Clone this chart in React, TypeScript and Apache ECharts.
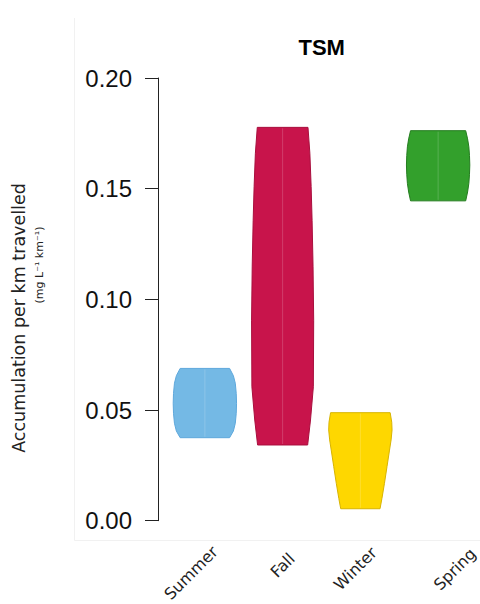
import React, { useEffect, useRef } from "react";
import * as echarts from "echarts";

// ---- data ----
const seasons = ["Summer", "Fall", "Winter", "Spring"];
const yTicks = [0, 0.05, 0.1, 0.15, 0.2];

// violin outlines: value levels (top → bottom) and relative half-widths
const summerY = [0.0688, 0.0655, 0.0621, 0.0575, 0.053, 0.0485, 0.044, 0.0405, 0.0375];
const summerW = [0.78, 0.9, 0.96, 0.99, 1.0, 0.99, 0.96, 0.9, 0.78];
const fallY = [0.1777, 0.166, 0.151, 0.1357, 0.115, 0.0906, 0.0605, 0.0455, 0.0342];
const fallW = [0.8, 0.86, 0.9, 0.93, 0.96, 0.98, 0.97, 0.88, 0.79];
const winterY = [0.0488, 0.0445, 0.041, 0.0365, 0.0319, 0.0244, 0.0169, 0.01, 0.0054];
const winterW = [0.94, 0.99, 1.0, 0.97, 0.92, 0.84, 0.76, 0.68, 0.62];
const springY = [0.1762, 0.1725, 0.1689, 0.165, 0.1607, 0.1565, 0.1524, 0.1485, 0.1445];
const springW = [0.87, 0.93, 0.97, 0.99, 1.0, 0.99, 0.97, 0.93, 0.87];

const profileY = [summerY, fallY, winterY, springY];
const profileW = [summerW, fallW, winterW, springW];

// ---- styles ----
const fills = ["#74b9e5", "#c8144b", "#fed700", "#33a02c"];
const strokes = ["#5ea8dc", "#a90f3e", "#d8b400", "#247d1f"];
const labelPos = [
  [215, 549],
  [292, 556],
  [374, 550],
  [473, 551],
];

export default function App() {
  const ref = useRef<HTMLDivElement>(null);
  useEffect(() => {
    const chart = echarts.init(ref.current!, null, { renderer: "svg" });
    const option: any = {
      animation: false,
      backgroundColor: "#ffffff",
      grid: { left: 166, right: 3, top: 78, bottom: 83.3, containLabel: false },
      xAxis: {
        type: "category",
        data: seasons,
        boundaryGap: true,
        axisLine: { show: false },
        axisTick: { show: false },
        axisLabel: { show: false },
        splitLine: { show: false },
      },
      yAxis: {
        type: "value",
        min: yTicks[0],
        max: yTicks[yTicks.length - 1],
        interval: 0.05,
        offset: 8,
        axisLine: { show: true, lineStyle: { color: "#222", width: 1 } },
        axisTick: { show: true, length: 13, inside: false, lineStyle: { color: "#222", width: 1 } },
        axisLabel: {
          margin: 26,
          fontSize: 24,
          fontFamily: "Liberation Sans, Arial, sans-serif",
          color: "#111",
          formatter: (v: number) => v.toFixed(2),
        },
        splitLine: { show: false },
      },
      series: [
        {
          type: "custom",
          data: seasons.map((_, i) => [i, profileY[i][0]]),
          encode: { x: 0, y: 1 },
          renderItem: (params: any, api: any) => {
            const i = params.dataIndex;
            const ys = profileY[i];
            const ws = profileW[i];
            const bw = api.size([1, 0])[0];
            const half = bw * 0.4075;
            const right = ys.map((y, k) => {
              const c = api.coord([i, y]);
              return [c[0] + ws[k] * half, c[1]];
            });
            const left = ys
              .map((y, k) => {
                const c = api.coord([i, y]);
                return [c[0] - ws[k] * half, c[1]];
              })
              .reverse();
            const top = api.coord([i, ys[0]]);
            const bot = api.coord([i, ys[ys.length - 1]]);
            return {
              type: "group",
              children: [
                {
                  type: "polygon",
                  shape: { points: right.concat(left) },
                  style: { fill: fills[i], stroke: strokes[i], lineWidth: 1 },
                },
                {
                  type: "line",
                  shape: { x1: top[0], y1: top[1] + 1, x2: bot[0], y2: bot[1] - 1 },
                  style: { stroke: "rgba(255,255,255,0.18)", lineWidth: 1 },
                },
              ],
            };
          },
        },
      ],
      graphic: [
        {
          type: "line",
          shape: { x1: 74.5, y1: 18, x2: 74.5, y2: 540.5 },
          style: { stroke: "#f1f1f1", lineWidth: 1 },
          silent: true,
        },
        {
          type: "line",
          shape: { x1: 74.5, y1: 540.5, x2: 480, y2: 540.5 },
          style: { stroke: "#f1f1f1", lineWidth: 1 },
          silent: true,
        },
        {
          type: "text",
          x: 321.7,
          y: 47,
          style: {
            text: "TSM",
            font: "bold 22px 'Liberation Sans', Arial, sans-serif",
            fill: "#000",
            align: "center",
            verticalAlign: "middle",
          },
        },
        {
          type: "text",
          x: 19,
          y: 318,
          rotation: Math.PI / 2,
          style: {
            text: "Accumulation per km travelled",
            font: "17.5px 'DejaVu Sans', sans-serif",
            fill: "#222",
            align: "center",
            verticalAlign: "middle",
          },
        },
        {
          type: "text",
          x: 39,
          y: 265,
          rotation: Math.PI / 2,
          style: {
            text: "(mg L\u207B\u00B9 km\u207B\u00B9)",
            font: "11px 'DejaVu Sans', sans-serif",
            fill: "#222",
            align: "center",
            verticalAlign: "middle",
          },
        },
        ...seasons.map((s, i) => ({
          type: "text",
          x: labelPos[i][0],
          y: labelPos[i][1],
          rotation: Math.PI / 4,
          style: {
            text: s,
            font: "16px 'DejaVu Sans', sans-serif",
            fill: "#222",
            align: "right",
            verticalAlign: "middle",
          },
        })),
      ],
    };
    chart.setOption(option);
    return () => chart.dispose();
  }, []);
  return (
    <div
      ref={ref}
      style={{ position: "fixed", left: 0, top: 0, width: 480, height: 604 }}
    />
  );
}
